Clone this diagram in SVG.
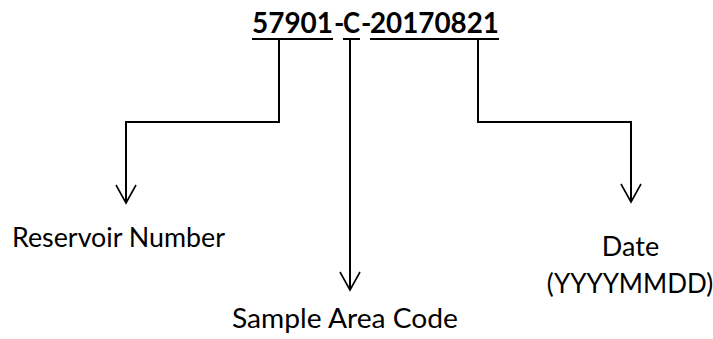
<svg xmlns="http://www.w3.org/2000/svg" width="713" height="339" viewBox="0 0 713 339">
<style>
.t{font-family:Lato,"Liberation Sans",sans-serif;font-weight:bold;font-size:28px;fill:#000}
.l{font-family:Lato,"Liberation Sans",sans-serif;font-size:27px;fill:#000}
.m{text-anchor:middle}
.c{fill:none;stroke:#000;stroke-width:2}
.u{stroke:#000;stroke-width:2}
</style>
<defs>
<marker id="v" viewBox="0 0 20 22" markerWidth="20" markerHeight="22" refX="18" refY="11" orient="auto" markerUnits="userSpaceOnUse" overflow="visible">
<path d="M0,1 L18,11 L0,21" fill="none" stroke="#000" stroke-width="1.6"/>
</marker>
</defs>
<g id="code">
<text class="t" x="252" y="33" textLength="81" lengthAdjust="spacingAndGlyphs">57901</text>
<text class="t" x="334" y="33">-</text>
<text class="t" x="343" y="33" textLength="17" lengthAdjust="spacingAndGlyphs">C</text>
<text class="t" x="361" y="33">-</text>
<text class="t" x="370" y="33" textLength="129" lengthAdjust="spacingAndGlyphs">20170821</text>
<line class="u" x1="252" y1="39" x2="333" y2="39"/>
<line class="u" x1="343" y1="39" x2="360" y2="39"/>
<line class="u" x1="370" y1="39" x2="499" y2="39"/>
</g>
<g id="connectors">
<path class="c" d="M279,40 V122 H126 V203" marker-end="url(#v)"/>
<path class="c" d="M350,40 V290" marker-end="url(#v)"/>
<path class="c" d="M478,40 V122 H631 V202" marker-end="url(#v)"/>
</g>
<g id="reservoir">
<text class="l" x="12" y="247" textLength="213" lengthAdjust="spacingAndGlyphs">Reservoir Number</text>
</g>
<g id="sample">
<text class="l" x="232" y="328" textLength="226" lengthAdjust="spacingAndGlyphs">Sample Area Code</text>
</g>
<g id="date">
<text class="l m" x="630.5" y="256">Date</text>
<text class="l m" x="630" y="293" style="font-size:26px">(YYYYMMDD)</text>
</g>
</svg>
